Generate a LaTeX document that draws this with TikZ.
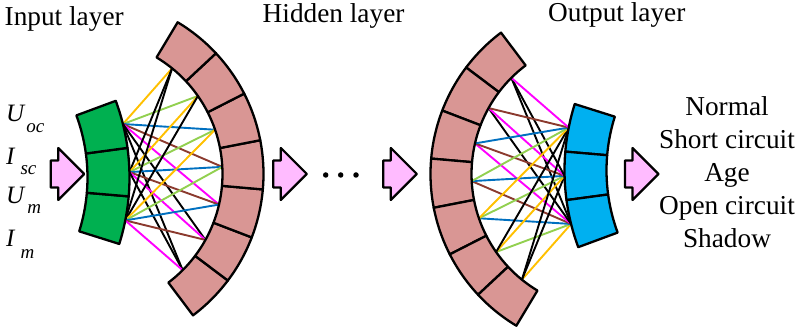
\documentclass[tikz,border=0pt]{standalone}
\usepackage{fontspec}
\setmainfont{Liberation Serif}
\usepackage{xcolor}
\usepackage{tikz}

\definecolor{ingreen}{HTML}{00B050}
\definecolor{outblue}{HTML}{00B0F0}
\definecolor{hidpink}{HTML}{D99694}
\definecolor{arrpink}{HTML}{FFBBFF}
\definecolor{wireorange}{HTML}{FFC000}
\definecolor{wiregreen}{HTML}{92D050}
\definecolor{wireblue}{HTML}{0070C0}
\definecolor{wirebrown}{HTML}{8B3A2E}
\definecolor{wiremagenta}{HTML}{FF00FF}

\begin{document}
\begin{tikzpicture}[x=1pt,y=1pt,line join=round,
layercell/.style={draw=black,line width=2.3pt},
wire/.style={line width=1.9pt},
blockarr/.style={draw=black,line width=2.2pt,fill=arrpink},
lbl/.style={inner sep=0pt,font=\fontsize{27.3}{30}\selectfont},
varlbl/.style={inner sep=0pt,anchor=base west,font=\fontsize{25}{28}\selectfont\itshape},
ellipsisdot/.style={circle,fill=black,inner sep=0pt,minimum size=5.5pt}]
\useasboundingbox (0,0) rectangle (797,329);
% left half, then the same turned round for the output side
\foreach \rot/\pre/\lay in {0/L/ingreen,180/R/outblue}{
\begin{scope}[rotate around={\rot:(347,155)}]
\foreach \i in {1,2,3}
  \coordinate (\pre i\i) at ([shift={(-91.5,151.5)}]{26.6-12.6*\i}:221);
\foreach \j in {1,...,7}
  \coordinate (\pre h\j) at ([shift={(86.5,155)}]{67-16*\j}:136);
\foreach \i in {1,2,3}
  \foreach \j in {1,...,7}{
    \pgfmathtruncatemacro\d{\j-\i}
    \ifcase\d \def\wc{wireorange}\or\def\wc{wiregreen}\or\def\wc{wireblue}\or\def\wc{wirebrown}\or\def\wc{wiremagenta}\else\def\wc{black}\fi
    \draw[wire,draw=\wc] (\pre i\i) -- (\pre h\j);
  }
\foreach \a in {-53,-37,...,43}
  \draw[layercell,fill=hidpink,shift={(86.5,155)}] (\a:136) arc[start angle=\a,delta angle=16,radius=136]
    -- ({\a+16}:177) arc[start angle=\a+16,delta angle=-16,radius=177] -- cycle;
\foreach \a in {-17.5,-4.9,7.7}
  \draw[layercell,fill=\lay,shift={(-91.5,151.5)}] (\a:179) arc[start angle=\a,delta angle=12.6,radius=179]
    -- ({\a+12.6}:221) arc[start angle=\a+12.6,delta angle=-12.6,radius=221] -- cycle;
\end{scope}
}
\foreach \ax in {50.7,273.3,383.3,625}
  \draw[blockarr] (\ax,141.5) -- ++(7.5,0) -- ++(0,-12.5) -- ++(26,26) -- ++(-26,26) -- ++(0,-12.5) -- ++(-7.5,0) -- cycle;
\node[ellipsisdot] (dot1) at (325.7,154) {};
\node[ellipsisdot] (dot2) at (340.7,154) {};
\node[ellipsisdot] (dot3) at (356,154) {};
\node[lbl,anchor=base west] (inlab) at (4.5,303) {Input layer};
\node[lbl,anchor=base west] (hidlab) at (262.5,306.3) {Hidden layer};
\node[lbl,anchor=base west] (outlab) at (548,307.3) {Output layer};
\node[varlbl] (uoc) at (6,207.3) {U\kern2pt\raisebox{-11pt}{\fontsize{19}{19}\selectfont oc}};
\node[varlbl] (isc) at (6,164) {I\kern6pt\raisebox{-10pt}{\fontsize{19}{19}\selectfont sc}};
\node[varlbl] (um) at (6,125.7) {U\kern3pt\raisebox{-10pt}{\fontsize{19}{19}\selectfont m}};
\node[varlbl] (im) at (6,82.3) {I\kern6pt\raisebox{-11.6pt}{\fontsize{19}{19}\selectfont m}};
\foreach \lab [count=\k] in {Normal,Short circuit,Age,Open circuit,Shadow}
  \node[lbl,anchor=base] (cls\k) at (727,{246.5-33*\k}) {\lab};
\end{tikzpicture}
\end{document}
